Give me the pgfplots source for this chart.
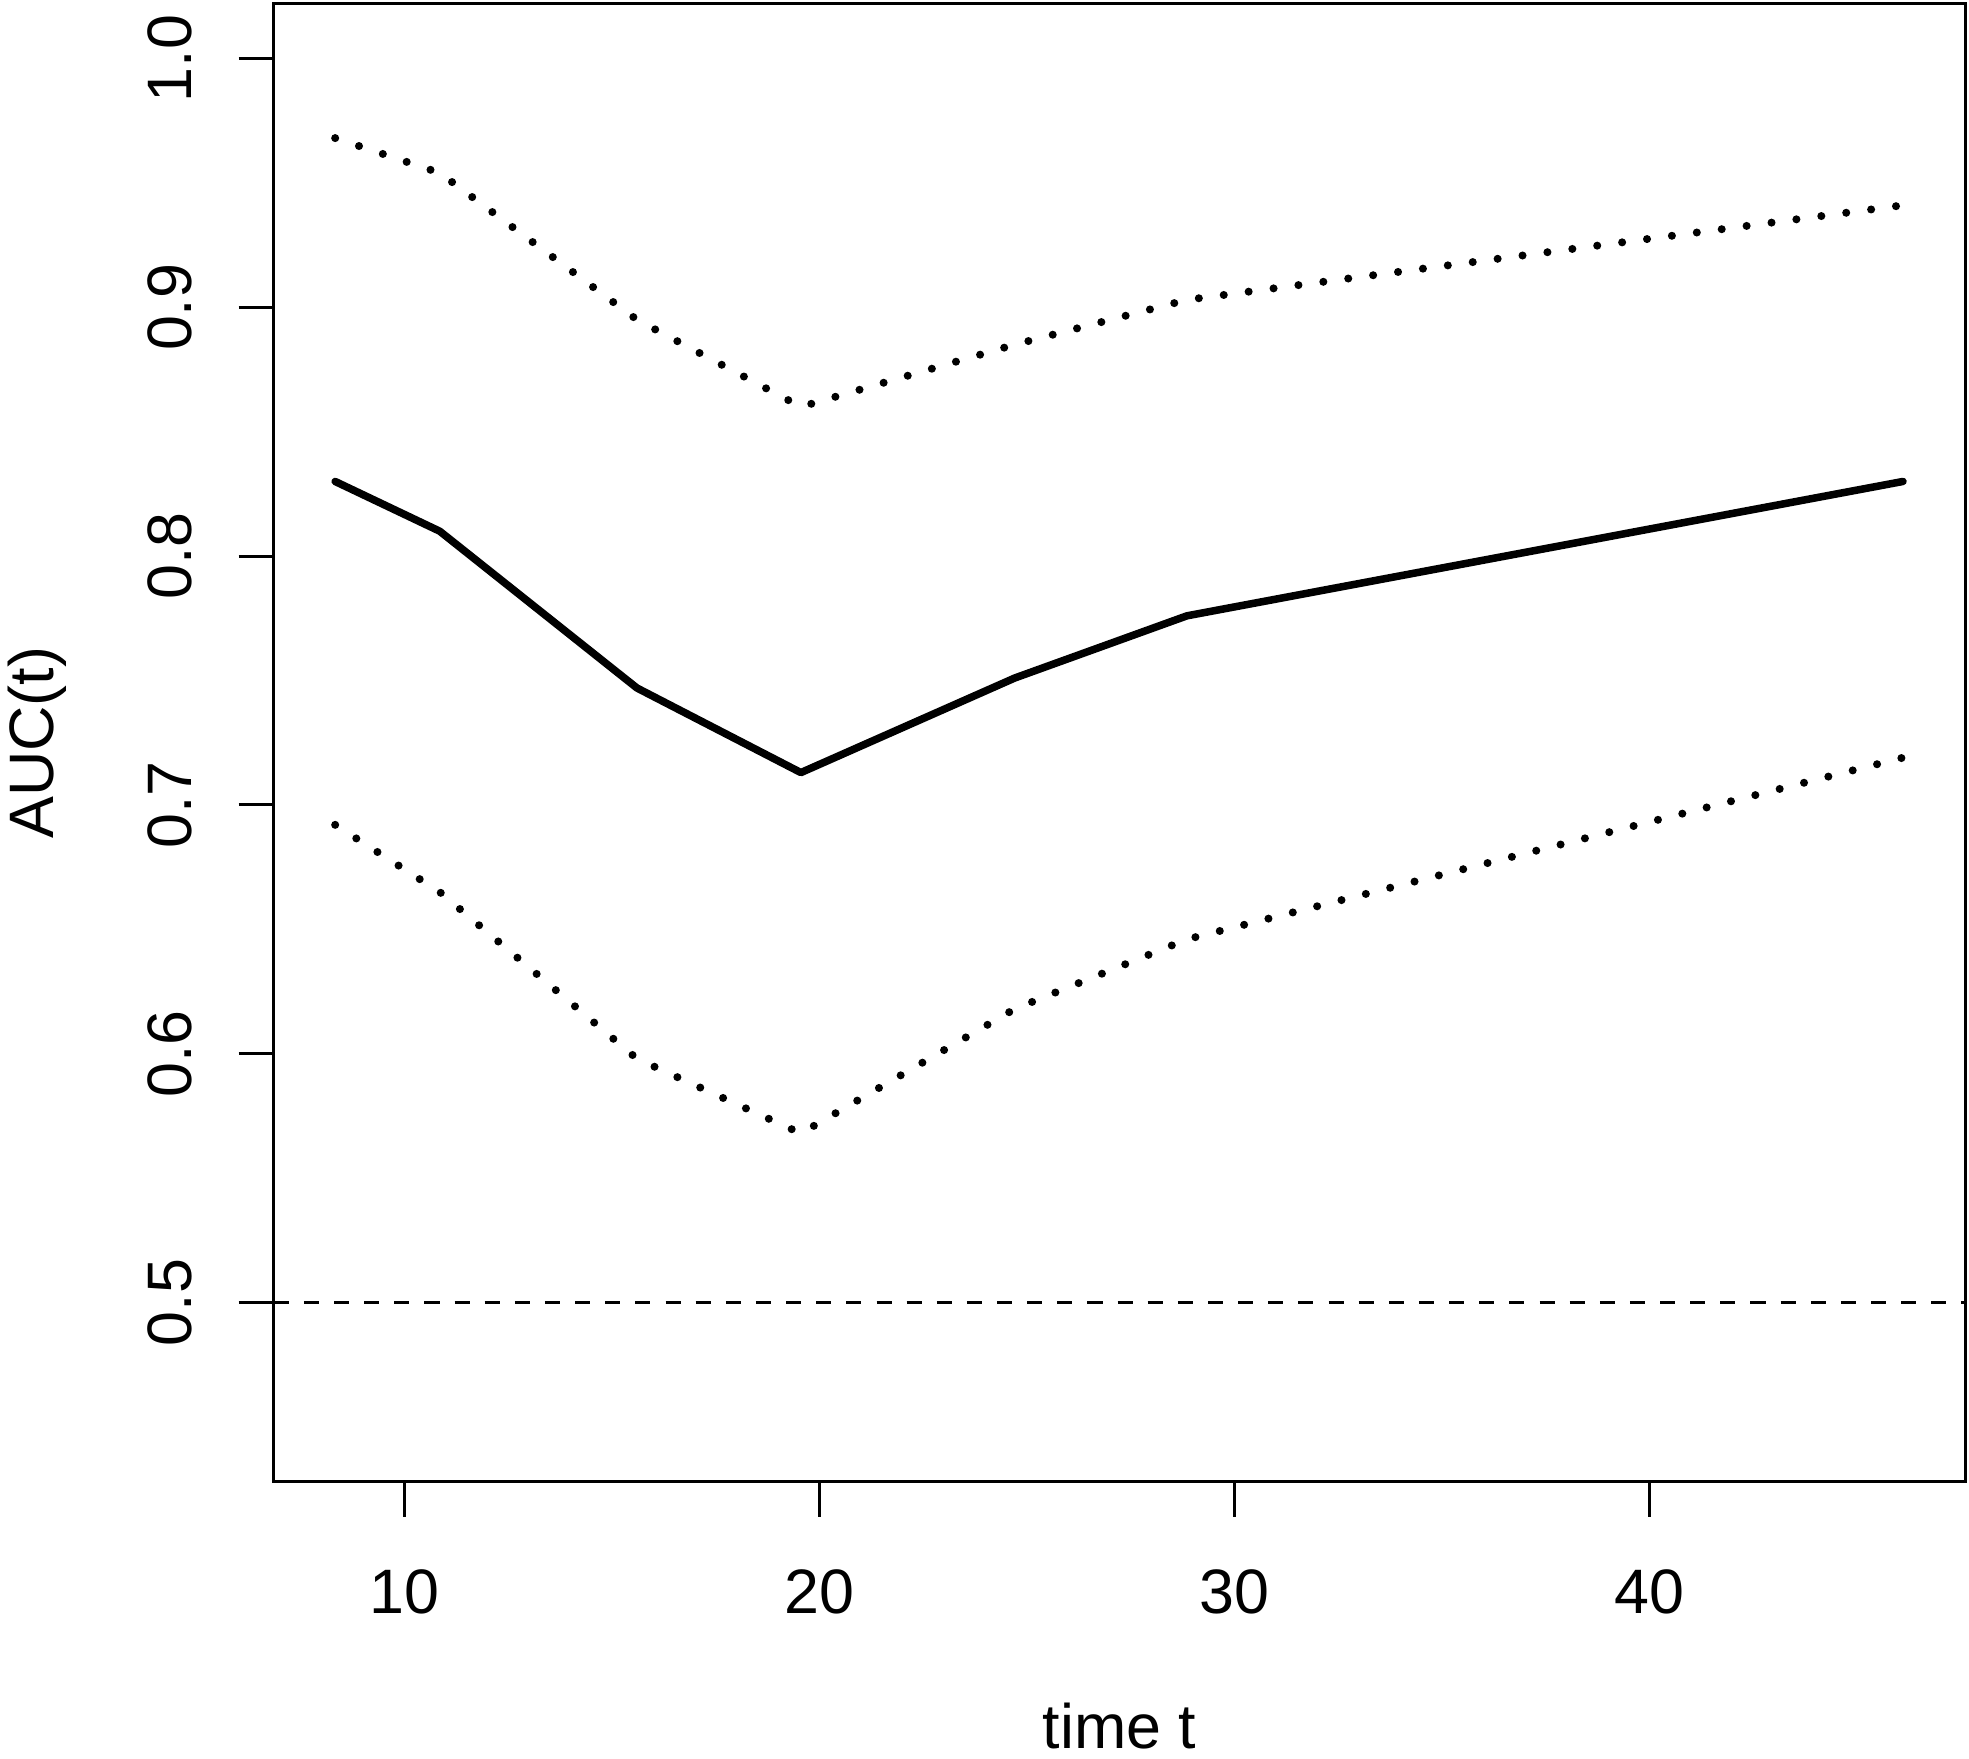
\documentclass[border=0pt]{standalone}
\usepackage{pgfplots}
\pgfplotsset{compat=1.18}
\usepackage{fontspec}
\setmainfont{Liberation Sans}
\begin{document}
\begin{tikzpicture}
\useasboundingbox (0,0) rectangle (392pt,350pt);
\begin{axis}[
  at={(54.5pt,55pt)}, anchor=south west,
  scale only axis, width=336.75pt, height=294.25pt,
  xmin=6.85, xmax=47.6, ymin=0.428, ymax=1.022,
  xtick={10,20,30,40}, xticklabels={10,20,30,40},
  ytick={0.5,0.6,0.7,0.8,0.9,1.0}, yticklabels={0.5,0.6,0.7,0.8,0.9,1.0},
  xtick pos=lower, ytick pos=left,
  tick align=outside, major tick length=7pt,
  axis line style={line width=0.6pt},
  every tick/.style={black, line width=0.6pt},
  font=\fontsize{12.5}{15}\selectfont,
  /pgf/number format/assume math mode=true,
  xticklabel style={anchor=center, yshift=-15pt},
  yticklabel style={rotate=90, anchor=center, yshift=13.75pt},
  xlabel={time t}, ylabel={AUC(t)},
  xlabel style={at={(axis description cs:0.5,-0.165)}, anchor=center},
  ylabel style={at={(axis description cs:-0.1396,0.5)}, anchor=center, rotate=0},
  clip=false,
]
\addplot[black, line width=0.75pt, dash pattern=on 3pt off 3pt] coordinates {(6.85,0.5) (47.6,0.5)};
\addplot[black, line width=1.5pt, line join=round, line cap=round] coordinates {
(8.33,0.830) (10.85,0.810) (15.6,0.747) (19.55,0.713) (24.7,0.751) (28.85,0.776) (46.1,0.830)};
\addplot[black, line width=1.6pt, line cap=round, dash pattern=on 0pt off 5pt] coordinates {
(8.33,0.968) (10.85,0.954) (15.6,0.895) (19.55,0.860) (24.7,0.885) (28.85,0.903) (46.1,0.941)};
\addplot[black, line width=1.6pt, line cap=round, dash pattern=on 0pt off 5pt] coordinates {
(8.33,0.692) (10.85,0.665) (15.6,0.598) (19.55,0.568) (24.7,0.618) (28.85,0.646) (46.1,0.719)};
\end{axis}
\end{tikzpicture}
\end{document}
